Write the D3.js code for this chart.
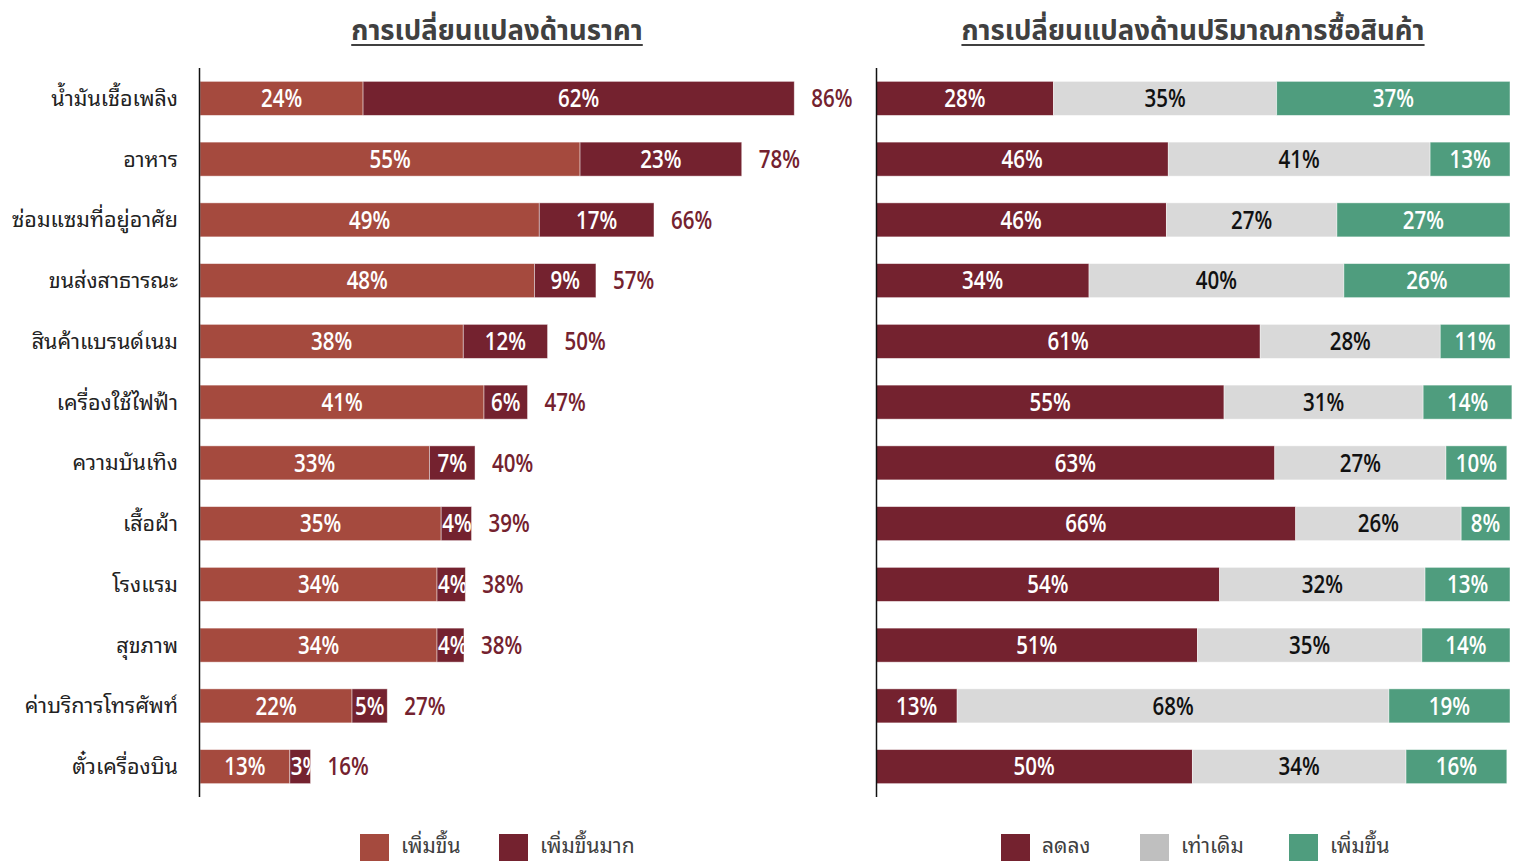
<!DOCTYPE html>
<html>
<head>
<meta charset="utf-8">
<script src="https://cdn.jsdelivr.net/npm/d3@7/dist/d3.min.js"></script>
<style>
  body { margin: 0; background: #fff; }
  svg { display: block; }
</style>
</head>
<body>
<svg id="chart" width="1516" height="861"></svg>
<script>
const categories = ['น้ำมันเชื้อเพลิง', 'อาหาร', 'ซ่อมแซมที่อยู่อาศัย', 'ขนส่งสาธารณะ', 'สินค้าแบรนด์เนม',
  'เครื่องใช้ไฟฟ้า', 'ความบันเทิง', 'เสื้อผ้า', 'โรงแรม', 'สุขภาพ', 'ค่าบริการโทรศัพท์', 'ตั๋วเครื่องบิน']

// left panel: price change (%)
const priceUp = [23.6, 55.0, 49.1, 48.4, 38.1, 41.1, 33.2, 34.9, 34.3, 34.3, 22.0, 13.0]
const priceUpMuch = [62.4, 23.4, 16.6, 8.9, 12.2, 6.3, 6.6, 4.4, 4.1, 3.9, 5.1, 3.0]

// right panel: purchase volume change (%)
const volDown = [28.0, 46.1, 45.8, 33.6, 60.6, 54.9, 62.9, 66.2, 54.2, 50.7, 12.8, 49.9]
const volSame = [35.2, 41.3, 26.9, 40.2, 28.4, 31.4, 27.0, 26.1, 32.4, 35.4, 68.1, 33.7]
const volUp = [36.8, 12.6, 27.3, 26.2, 11.0, 14.0, 9.6, 7.7, 13.4, 13.9, 19.1, 15.9]

const titles = ['การเปลี่ยนแปลงด้านราคา', 'การเปลี่ยนแปลงด้านปริมาณการซื้อสินค้า']
const priceLegend = ['เพิ่มขึ้น', 'เพิ่มขึ้นมาก']
const volLegend = ['ลดลง', 'เท่าเดิม', 'เพิ่มขึ้น']

const C = {
  up: '#a54a3e',
  much: '#74222f',
  same: '#d9d9d9',
  sameLegend: '#bfbfbf',
  green: '#4f9d7e',
  text: '#404040'
}
const thai = "'Noto Sans Thai', 'Noto Sans', sans-serif"
const thaiLooped = "'Noto Sans Thai Looped', 'Noto Serif Thai', 'Noto Sans Thai', sans-serif"
const num = "'Open Sans', 'Noto Sans', sans-serif"
const squeeze = 0.79 // the reference numbers use a narrow face

const svg = d3.select('#chart')

const y = d3.scaleBand()
  .domain(categories)
  .range([68, 797])
  .paddingInner(0.44)
  .paddingOuter(0.22)

const xL = d3.scaleLinear().domain([0, 100]).range([200, 891])
const xR = d3.scaleLinear().domain([0, 100]).range([876, 1510])

let clipId = 0

// narrow number label
function numLabel (parent, x, yc, anchor, fill, str) {
  return parent.append('text')
    .attr('transform', 'translate(' + x + ',' + yc + ') scale(' + squeeze + ',1)')
    .attr('dy', '0.34em')
    .attr('text-anchor', anchor)
    .style('font', '600 26px ' + num)
    .attr('fill', fill)
    .text(str)
}

function drawStack (keys, colors, labelColors, x) {
  const table = categories.map((cat, i) => {
    const row = {cat}
    keys.forEach(k => { row[k.name] = k.values[i] })
    return row
  })
  const series = d3.stack().keys(keys.map(k => k.name))(table)
  const g = svg.append('g')
  series.forEach((s, si) => {
    const seg = g.selectAll(null)
      .data(s)
      .enter()
      .append('g')
    seg.append('rect')
      .attr('x', d => x(d[0]))
      .attr('y', d => y(d.data.cat))
      .attr('width', d => x(d[1]) - x(d[0]))
      .attr('height', y.bandwidth())
      .attr('fill', colors[si])
      .attr('stroke', 'rgba(255,255,255,0.55)')
      .attr('stroke-width', 0.8)
    seg.each(function (d) {
      const id = 'clip' + (clipId++)
      const x0 = x(d[0])
      const w = x(d[1]) - x0
      const yc = y(d.data.cat) + y.bandwidth() / 2
      d3.select(this).append('clipPath')
        .attr('id', id)
        .append('rect')
        .attr('x', x0)
        .attr('y', y(d.data.cat))
        .attr('width', w)
        .attr('height', y.bandwidth())
      const holder = d3.select(this).append('g').attr('clip-path', 'url(#' + id + ')')
      const t = numLabel(holder, x0 + w / 2, yc, 'middle', labelColors[si], Math.round(d[1] - d[0]) + '%')
      if (t.node().getComputedTextLength() * squeeze > w - 2) {
        t.remove()
        numLabel(holder, x0 + 1, yc, 'start', labelColors[si], Math.round(d[1] - d[0]) + '%')
      }
    })
  })
  return series
}

// left panel
const left = drawStack(
  [{name: 'up', values: priceUp}, {name: 'much', values: priceUpMuch}],
  [C.up, C.much], ['#fff', '#fff'], xL)

const totals = svg.append('g')
left[1].forEach(d => {
  numLabel(totals, xL(d[1]) + 17, y(d.data.cat) + y.bandwidth() / 2, 'start', C.much, Math.round(d[1]) + '%')
})

// right panel
drawStack(
  [{name: 'down', values: volDown}, {name: 'same', values: volSame}, {name: 'up', values: volUp}],
  [C.much, C.same, C.green], ['#fff', '#111', '#fff'], xR)

// category labels
svg.append('g')
  .selectAll('text')
  .data(categories)
  .enter()
  .append('text')
  .attr('x', 178)
  .attr('y', d => y(d) + y.bandwidth() / 2)
  .attr('dy', '0.35em')
  .attr('text-anchor', 'end')
  .style('font', '21.5px ' + thaiLooped)
  .attr('fill', '#222')
  .text(d => d)

// axis lines
;[199.5, 876.5].forEach(px => {
  svg.append('line')
    .attr('x1', px).attr('x2', px)
    .attr('y1', 68).attr('y2', 797)
    .attr('stroke', '#111')
    .attr('stroke-width', 1.5)
})

// titles, underlined
;[[titles[0], 497], [titles[1], 1193]].forEach(([txt, cx]) => {
  const t = svg.append('text')
    .attr('x', cx)
    .attr('y', 40)
    .attr('text-anchor', 'middle')
    .style('font', 'bold 27.5px ' + thai)
    .attr('fill', C.text)
    .text(txt)
  const w = t.node().getComputedTextLength()
  svg.append('line')
    .attr('x1', cx - w / 2).attr('x2', cx + w / 2)
    .attr('y1', 45).attr('y2', 45)
    .attr('stroke', C.text)
    .attr('stroke-width', 2)
})

// legends
function legend (labels, colors, xs) {
  const g = svg.append('g')
  labels.forEach((lab, i) => {
    g.append('rect')
      .attr('x', xs[i]).attr('y', 834)
      .attr('width', 29).attr('height', 27)
      .attr('fill', colors[i])
    g.append('text')
      .attr('x', xs[i] + 41)
      .attr('y', 853)
      .style('font', '21px ' + thaiLooped)
      .attr('fill', C.text)
      .text(lab)
  })
}
legend(priceLegend, [C.up, C.much], [360, 499])
legend(volLegend, [C.much, C.sameLegend, C.green], [1001, 1140, 1289])
</script>
</body>
</html>
